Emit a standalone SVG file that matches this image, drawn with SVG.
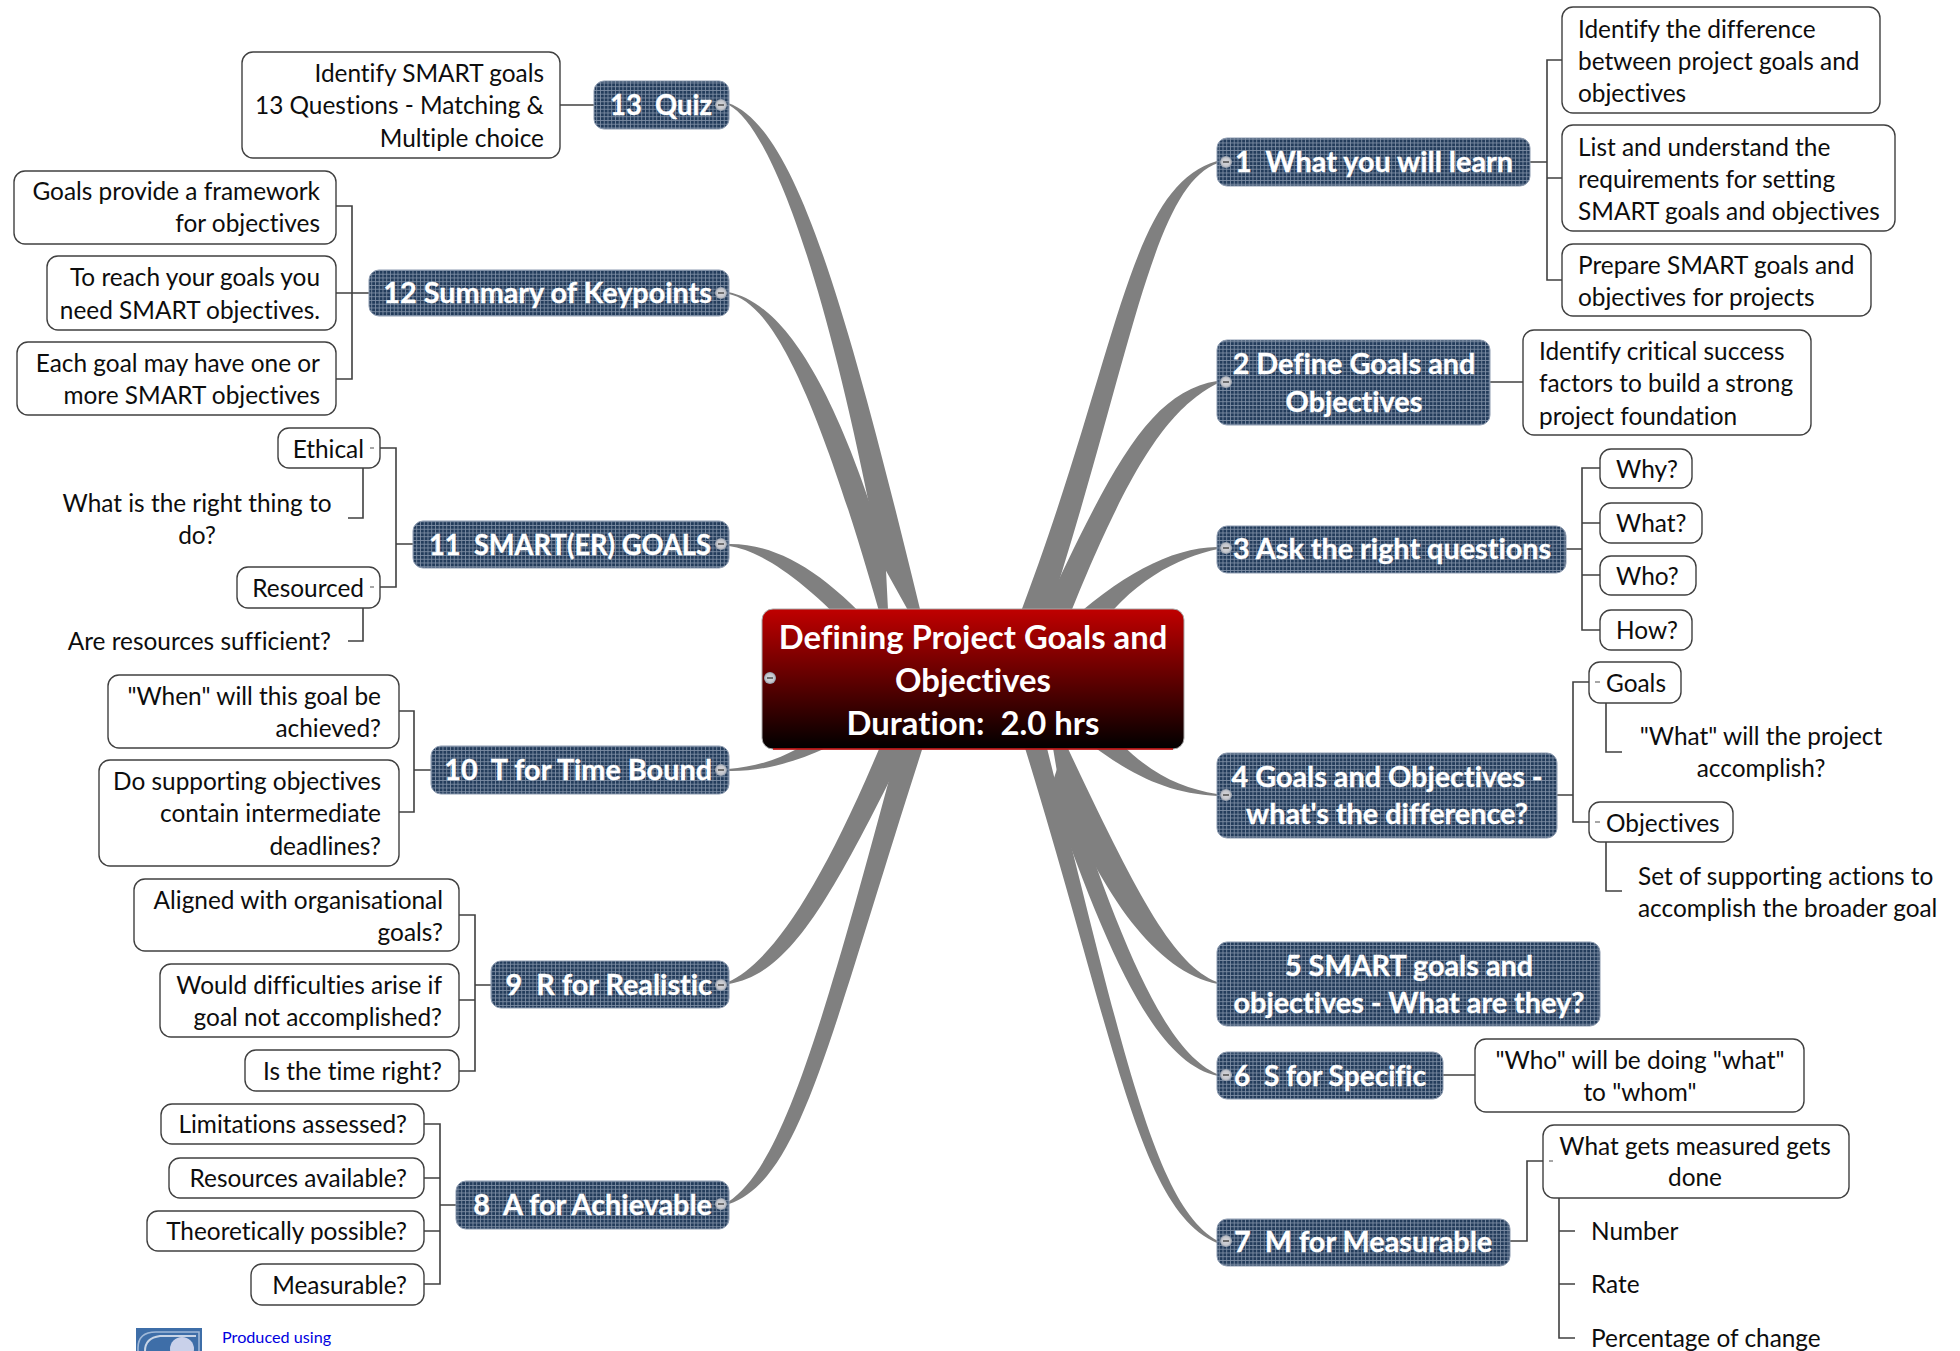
<svg xmlns="http://www.w3.org/2000/svg" width="1960" height="1351" viewBox="0 0 1960 1351">
<style>
text{font-family:"Lato","Carlito","Liberation Sans",sans-serif;white-space:pre;font-variant-ligatures:none}
.ribbon{fill:#808080;stroke:none}
.thin{fill:none;stroke:#404040;stroke-width:1.6}
.leaf rect{fill:#fff;stroke:#404040;stroke-width:1.4}
.lt{font-size:24.4px;fill:#0d0d0d}
.e{text-anchor:end}
.m{text-anchor:middle}
.main rect{fill:url(#grid);stroke:#8d9bb0;stroke-width:1}
.mt{font-size:28.8px;font-weight:700;fill:#fff;stroke:#fff;stroke-width:.35}
.ct{font-size:32.8px;font-weight:700;fill:#fff;text-anchor:middle}
.dash{stroke:#808080;stroke-width:1.4}
</style>
<defs>
<pattern id="grid" width="3.75" height="3.75" patternUnits="userSpaceOnUse">
<rect width="3.75" height="3.75" fill="#7f8fa5"/>
<rect x=".85" y=".85" width="2.9" height="2.9" fill="#233c5b"/>
</pattern>
<linearGradient id="red" x1="0" y1="0" x2="0" y2="1">
<stop offset="0" stop-color="#c00000"/>
<stop offset="1" stop-color="#000"/>
</linearGradient>
<radialGradient id="ic">
<stop offset="0" stop-color="#d8d8dc"/>
<stop offset=".7" stop-color="#c4c6cc"/>
<stop offset="1" stop-color="#8f99a8"/>
</radialGradient>
<g id="icon"><circle r="6" fill="url(#ic)"/><path d="M-3 0H3" stroke="#555" stroke-width="1.6"/></g>
</defs>
<rect width="1960" height="1351" fill="#fff"/>
<g id="connectors">
<path class="ribbon" d="M1217 161C1125 188 1120 360 1010 640L1040 640C1130 370 1150 187 1218 163Z"/>
<path class="ribbon" d="M1217 381C1148 392 1110 470 1035 630L1060 640C1130 460 1170 408 1218 383Z"/>
<path class="ribbon" d="M1217 547C1170 548 1120 575 1060 630L1090 640C1130 580 1178 558 1218 549Z"/>
<path class="ribbon" d="M1217 794C1175 787 1140 770 1095 715L1065 725C1120 768 1158 793 1218 796Z"/>
<path class="ribbon" d="M1217 982C1168 962 1130 880 1045 700L1060 790C1102 895 1156 972 1218 984Z"/>
<path class="ribbon" d="M1217 1074C1168 1052 1125 960 1060 760L1050 790C1110 960 1156 1063 1218 1076Z"/>
<path class="ribbon" d="M1218 1241C1155 1206 1125 1060 1040 720L1010 700C1115 1030 1135 1208 1217 1243Z"/>
<path class="ribbon" d="M728 1202C781 1167 820 1040 905 720L935 710C830 1030 804 1178 729 1204Z"/>
<path class="ribbon" d="M728 982C772 962 825 885 895 710L915 730C835 890 794 973 729 984Z"/>
<path class="ribbon" d="M728 769C770 766 800 750 835 725L870 725C825 752 775 772 729 771Z"/>
<path class="ribbon" d="M728 544C775 543 825 570 885 640L860 640C800 575 758 550 729 546Z"/>
<path class="ribbon" d="M728 292C778 302 830 370 885 550L890 650C815 380 770 303 729 294Z"/>
<path class="ribbon" d="M728 103C798 127 850 320 930 650L880 560C825 270 770 128 729 105Z"/>
<path class="thin" d="M1530 162H1547M1562 60H1547V280H1562M1547 178H1562"/>
<path class="thin" d="M1490 382H1523"/>
<path class="thin" d="M1566 549H1582M1600 468H1582V630H1600M1582 523H1600M1582 575H1600"/>
<path class="thin" d="M1557 795H1573M1589 682H1573V822H1589M1606 703V752H1622M1606 842V891H1622"/>
<path class="thin" d="M1442 1075H1475"/>
<path class="thin" d="M1509 1241H1527V1161H1543M1559 1198V1338H1575M1559 1231H1575M1559 1284H1575"/>
<path class="thin" d="M594 105H560"/>
<path class="thin" d="M369 293H336M336 206H352V379H336"/>
<path class="thin" d="M413 544H396M380 448H396V587H380M363 468V518H348M363 608V641H348"/>
<path class="thin" d="M431 770H414M399 711H414V812H399"/>
<path class="thin" d="M491 985H475M459 915H475V1071H459M475 1000H459"/>
<path class="thin" d="M456 1205H440M424 1124H440V1284H424M440 1178H424M440 1231H424"/>
</g>
<g id="center"><rect x="762" y="609" width="422" height="140" rx="11" fill="url(#red)" stroke="#a8a8a8" stroke-width="1"/><path d="M773 749H1173" stroke="#c00000" stroke-width="1.5"/><use href="#icon" x="770" y="678"/>
<text class="ct" x="973" y="649">Defining Project Goals and</text><text class="ct" x="973" y="692">Objectives</text><text class="ct" x="973" y="735">Duration:  2.0 hrs</text></g>
<g id="n1" class="main"><rect x="1217" y="138" width="313" height="48" rx="10"/><use href="#icon" x="1226" y="162"/><text class="mt" x="1235" y="172">1  What you will learn</text></g>
<g id="n2" class="main"><rect x="1217" y="340" width="273" height="85" rx="10"/><use href="#icon" x="1226" y="382"/><text class="mt m" x="1354" y="374">2 Define Goals and</text><text class="mt m" x="1354" y="412">Objectives</text></g>
<g id="n3" class="main"><rect x="1217" y="526" width="349" height="47" rx="10"/><use href="#icon" x="1226" y="548"/><text class="mt" x="1233" y="559">3 Ask the right questions</text></g>
<g id="n4" class="main"><rect x="1217" y="753" width="340" height="85" rx="10"/><use href="#icon" x="1226" y="795"/><text class="mt m" x="1387" y="787">4 Goals and Objectives -</text><text class="mt m" x="1387" y="824">what's the difference?</text></g>
<g id="n5" class="main"><rect x="1217" y="942" width="383" height="84" rx="10"/><text class="mt m" x="1409" y="976">5 SMART goals and</text><text class="mt m" x="1409" y="1013">objectives - What are they?</text></g>
<g id="n6" class="main"><rect x="1217" y="1052" width="226" height="47" rx="10"/><use href="#icon" x="1226" y="1075"/><text class="mt" x="1234" y="1086" textLength="192" lengthAdjust="spacingAndGlyphs">6  S for Specific</text></g>
<g id="n7" class="main"><rect x="1217" y="1219" width="293" height="47" rx="10"/><use href="#icon" x="1226" y="1241"/><text class="mt" x="1234" y="1252">7  M for Measurable</text></g>
<g id="n8" class="main"><rect x="456" y="1181" width="273" height="48" rx="10"/><use href="#icon" x="721" y="1204"/><text class="mt e" x="712" y="1215">8  A for Achievable</text></g>
<g id="n9" class="main"><rect x="491" y="961" width="238" height="47" rx="10"/><use href="#icon" x="721" y="985"/><text class="mt e" x="712" y="995">9  R for Realistic</text></g>
<g id="n10" class="main"><rect x="431" y="746" width="298" height="48" rx="10"/><use href="#icon" x="721" y="770"/><text class="mt e" x="712" y="780">10  T for Time Bound</text></g>
<g id="n11" class="main"><rect x="413" y="521" width="316" height="47" rx="10"/><use href="#icon" x="721" y="544"/><text class="mt e" x="711" y="555" textLength="282" lengthAdjust="spacingAndGlyphs">11  SMART(ER) GOALS</text></g>
<g id="n12" class="main"><rect x="369" y="270" width="360" height="46" rx="10"/><use href="#icon" x="721" y="293"/><text class="mt e" x="712" y="303">12 Summary of Keypoints</text></g>
<g id="n13" class="main"><rect x="594" y="81" width="135" height="48" rx="10"/><use href="#icon" x="721" y="105"/><text class="mt e" x="712" y="115" textLength="102" lengthAdjust="spacingAndGlyphs">13  Quiz</text></g>

<g id="l1a" class="leaf"><rect x="1562" y="7" width="318" height="106" rx="11"/><text class="lt" x="1578" y="38">Identify the difference</text><text class="lt" x="1578" y="70">between project goals and</text><text class="lt" x="1578" y="102">objectives</text></g>
<g id="l1b" class="leaf"><rect x="1562" y="125" width="333" height="106" rx="11"/><text class="lt" x="1578" y="156">List and understand the</text><text class="lt" x="1578" y="188">requirements for setting</text><text class="lt" x="1578" y="220">SMART goals and objectives</text></g>
<g id="l1c" class="leaf"><rect x="1562" y="244" width="309" height="72" rx="11"/><text class="lt" x="1578" y="274">Prepare SMART goals and</text><text class="lt" x="1578" y="306">objectives for projects</text></g>
<g id="l2a" class="leaf"><rect x="1523" y="330" width="288" height="105" rx="11"/><text class="lt" x="1539" y="360">Identify critical success</text><text class="lt" x="1539" y="392">factors to build a strong</text><text class="lt" x="1539" y="425">project foundation</text></g>
<g id="l3a" class="leaf"><rect x="1600" y="449" width="92" height="39" rx="11"/><text class="lt" x="1616" y="478">Why?</text></g>
<g id="l3b" class="leaf"><rect x="1600" y="503" width="102" height="40" rx="11"/><text class="lt" x="1616" y="532">What?</text></g>
<g id="l3c" class="leaf"><rect x="1600" y="556" width="96" height="39" rx="11"/><text class="lt" x="1616" y="585">Who?</text></g>
<g id="l3d" class="leaf"><rect x="1600" y="610" width="92" height="40" rx="11"/><text class="lt" x="1616" y="639">How?</text></g>
<g id="l4a" class="leaf"><rect x="1589" y="662" width="92" height="41" rx="11"/><path class="dash" d="M1595 682H1600"/><text class="lt" x="1606" y="692">Goals</text></g>
<g id="l4a1"><text class="lt m" x="1761" y="745">"What" will the project</text><text class="lt m" x="1761" y="777">accomplish?</text></g>
<g id="l4b" class="leaf"><rect x="1589" y="802" width="144" height="40" rx="11"/><path class="dash" d="M1595 822H1600"/><text class="lt" x="1606" y="832">Objectives</text></g>
<g id="l4b1"><text class="lt" x="1638" y="885">Set of supporting actions to</text><text class="lt" x="1638" y="917">accomplish the broader goal</text></g>
<g id="l6a" class="leaf"><rect x="1475" y="1039" width="329" height="73" rx="11"/><text class="lt m" x="1640" y="1069">"Who" will be doing "what"</text><text class="lt m" x="1640" y="1101">to "whom"</text></g>
<g id="l7a" class="leaf"><rect x="1543" y="1125" width="306" height="73" rx="11"/><path class="dash" d="M1549 1161H1553"/><text class="lt m" x="1695" y="1155">What gets measured gets</text><text class="lt m" x="1695" y="1186">done</text></g>
<g id="l7b"><text class="lt" x="1591" y="1240">Number</text></g>
<g id="l7c"><text class="lt" x="1591" y="1293">Rate</text></g>
<g id="l7d"><text class="lt" x="1591" y="1347">Percentage of change</text></g>

<g id="l13a" class="leaf"><rect x="242" y="52" width="318" height="106" rx="11"/><text class="lt e" x="544" y="82">Identify SMART goals</text><text class="lt e" x="544" y="114">13 Questions - Matching &amp;</text><text class="lt e" x="544" y="147">Multiple choice</text></g>
<g id="l12a" class="leaf"><rect x="14" y="171" width="322" height="73" rx="11"/><text class="lt e" x="320" y="200">Goals provide a framework</text><text class="lt e" x="320" y="232">for objectives</text></g>
<g id="l12b" class="leaf"><rect x="47" y="256" width="289" height="74" rx="11"/><text class="lt e" x="320" y="286">To reach your goals you</text><text class="lt e" x="320" y="319">need SMART objectives.</text></g>
<g id="l12c" class="leaf"><rect x="17" y="342" width="319" height="73" rx="11"/><text class="lt e" x="320" y="372">Each goal may have one or</text><text class="lt e" x="320" y="404">more SMART objectives</text></g>
<g id="l11a" class="leaf"><rect x="278" y="428" width="102" height="40" rx="11"/><path class="dash" d="M370 448H374"/><text class="lt e" x="364" y="458">Ethical</text></g>
<g id="l11a1"><text class="lt m" x="197" y="512">What is the right thing to</text><text class="lt m" x="197" y="544">do?</text></g>
<g id="l11b" class="leaf"><rect x="237" y="567" width="143" height="41" rx="11"/><path class="dash" d="M370 587H374"/><text class="lt e" x="364" y="597">Resourced</text></g>
<g id="l11b1"><text class="lt e" x="331" y="650">Are resources sufficient?</text></g>
<g id="l10a" class="leaf"><rect x="108" y="675" width="291" height="73" rx="11"/><text class="lt e" x="381" y="705">"When" will this goal be</text><text class="lt e" x="381" y="737">achieved?</text></g>
<g id="l10b" class="leaf"><rect x="99" y="760" width="300" height="106" rx="11"/><text class="lt e" x="381" y="790">Do supporting objectives</text><text class="lt e" x="381" y="822">contain intermediate</text><text class="lt e" x="381" y="855">deadlines?</text></g>
<g id="l9a" class="leaf"><rect x="134" y="879" width="325" height="72" rx="11"/><text class="lt e" x="443" y="909">Aligned with organisational</text><text class="lt e" x="443" y="941">goals?</text></g>
<g id="l9b" class="leaf"><rect x="160" y="964" width="299" height="73" rx="11"/><text class="lt e" x="442" y="994">Would difficulties arise if</text><text class="lt e" x="442" y="1026">goal not accomplished?</text></g>
<g id="l9c" class="leaf"><rect x="245" y="1050" width="214" height="41" rx="11"/><text class="lt e" x="442" y="1080">Is the time right?</text></g>
<g id="l8a" class="leaf"><rect x="161" y="1104" width="263" height="40" rx="11"/><text class="lt e" x="407" y="1133">Limitations assessed?</text></g>
<g id="l8b" class="leaf"><rect x="169" y="1158" width="255" height="40" rx="11"/><text class="lt e" x="407" y="1187">Resources available?</text></g>
<g id="l8c" class="leaf"><rect x="147" y="1211" width="277" height="40" rx="11"/><text class="lt e" x="407" y="1240">Theoretically possible?</text></g>
<g id="l8d" class="leaf"><rect x="251" y="1264" width="173" height="41" rx="11"/><text class="lt e" x="407" y="1294">Measurable?</text></g>
<g id="logo"><rect x="136" y="1328" width="66" height="23" fill="#3e6ea8"/><path d="M138 1351V1348Q138 1332 156 1332H199V1351" fill="none" stroke="#9fb8d8" stroke-width="1.6"/><path d="M145 1351Q145 1338 160 1336H196" fill="none" stroke="#c7d4e6" stroke-width="2"/><circle cx="182" cy="1349" r="12" fill="#c9d1ea"/><text x="222" y="1343" font-size="16.2" fill="#0000e0">Produced using</text></g>
</svg>
